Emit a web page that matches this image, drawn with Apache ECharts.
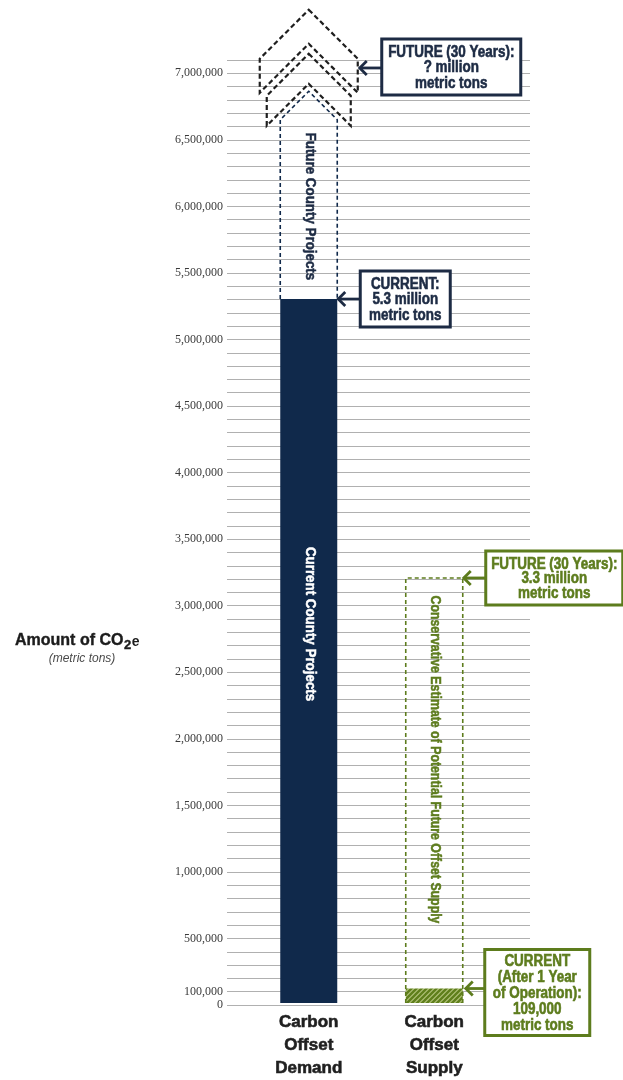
<!DOCTYPE html>
<html>
<head>
<meta charset="utf-8">
<title>Carbon Offset Demand vs Supply</title>
<script src="https://cdn.jsdelivr.net/npm/echarts@6/dist/echarts.min.js"></script>
<style>
  html, body { margin: 0; padding: 0; background: #fff; }
  #chart { width: 623px; height: 1080px; }
</style>
</head>
<body>
<div id="chart"></div>
<script>
// ---- data ----
const categories = ['Carbon\nOffset\nDemand', 'Carbon\nOffset\nSupply']
/** current amounts (metric tons CO2e) */
const currentValues = [5300000, 109000]
/** dashed "future" outlines: where each starts and where its top sits */
const outlineFrom = [5300000, 0]
const outlineTo = [6650000, 3200000]
const barTexts = ['Current County Projects', '']
const outlineTexts = ['Future County Projects', 'Conservative Estimate of Potential Future Offset Supply']
/** y tick labels that are printed (grid lines every 100,000) */
const yLabelValues = [0, 100000, 500000, 1000000, 1500000, 2000000, 2500000, 3000000,
  3500000, 4000000, 4500000, 5000000, 5500000, 6000000, 6500000, 7000000]
/** call-out boxes: which bar, at what value the arrow points */
const noteCategory = [0, 0, 1, 1]
const noteValues = [7040000, 5300000, 3200000, 109000]
const noteTexts = [
  'FUTURE (30 Years):\n? million\nmetric tons',
  'CURRENT:\n5.3 million\nmetric tons',
  'FUTURE (30 Years):\n3.3 million\nmetric tons',
  'CURRENT\n(After 1 Year\nof Operation):\n109,000\nmetric tons'
]

// ---- styles ----
const NAVY = '#10294b'
const NAVY_TEXT = '#1d2b44'
const GREEN = '#5d7c1d'
const DASH_DARK = '#1e1e1e'
const SANS = "'Liberation Sans', Arial, sans-serif"
const BAR_W = 57
// per call-out: arrow tip offset from bar centre, gap to box, box size, colour, box shift, line height
const noteStyles = [
  { tip: 50, gap: 23, w: 139, h: 56, dy: -1, lh: 15.5, color: NAVY_TEXT },
  { tip: 28.5, gap: 23, w: 90, h: 56, dy: 0, lh: 15.5, color: NAVY_TEXT },
  { tip: 28.5, gap: 23, w: 137, h: 54, dy: 0, lh: 14.5, color: GREEN },
  { tip: 30.5, gap: 20, w: 105, h: 86, dy: 4, lh: 16, color: GREEN }
]

/** diagonal green hatch used for the current supply bar */
function hatchPattern() {
  const c = document.createElement('canvas')
  c.width = 5
  c.height = 5
  const g = c.getContext('2d')
  g.fillStyle = '#b4c47c'
  g.fillRect(0, 0, 5, 5)
  g.strokeStyle = '#5f7f1c'
  g.lineWidth = 2.4
  g.beginPath()
  g.moveTo(-1, 6); g.lineTo(6, -1)
  g.moveTo(-1, 1); g.lineTo(1, -1)
  g.moveTo(4, 6); g.lineTo(6, 4)
  g.stroke()
  return { image: c, repeat: 'repeat' }
}

/** thick dashed chevron, peak at (cx, py), half width w, thickness t */
function chevron(cx, py, w, t) {
  return [[cx, py], [cx + w, py + w], [cx + w, py + w + t], [cx, py + t],
    [cx - w, py + w + t], [cx - w, py + w]]
}

/** vertical text reading top to bottom, squeezed a little along its length */
function verticalText(x, y, text, fill, size, squeeze) {
  return {
    type: 'text',
    x,
    y,
    rotation: -Math.PI / 2,
    scaleX: squeeze,
    style: {
      text,
      fill,
      stroke: fill,
      lineWidth: 0.5,
      font: 'bold ' + size + 'px ' + SANS,
      align: 'center',
      verticalAlign: 'middle'
    }
  }
}

function renderOutline(params, api) {
  const i = api.value(0)
  const bottom = api.coord([i, api.value(1)])
  const top = api.coord([i, api.value(2)])
  const cx = bottom[0]
  const h = BAR_W / 2
  const color = i === 0 ? NAVY : GREEN
  const dash = { stroke: color, fill: null, lineWidth: 1.6, lineDash: [4, 3] }
  const mid = (bottom[1] + top[1]) / 2
  const children = []
  if (i === 0) {
    children.push({
      type: 'polyline',
      shape: { points: [[cx - h, bottom[1]], [cx - h, top[1]], [cx, top[1] - h], [cx + h, top[1]], [cx + h, bottom[1]]] },
      style: dash
    })
    // stacked arrow chevrons above the future outline
    const arrowStyle = { stroke: DASH_DARK, fill: null, lineWidth: 2.2, lineDash: [5, 3] }
    children.push({ type: 'polygon', shape: { points: chevron(cx, top[1] - 66, 42, 30) }, style: arrowStyle })
    children.push({ type: 'polygon', shape: { points: chevron(cx, top[1] - 110, 49, 34) }, style: arrowStyle })
    children.push(verticalText(cx + 1, mid - 3, outlineTexts[i], NAVY_TEXT, 15, 0.89))
  } else {
    children.push({
      type: 'polyline',
      shape: { points: [[cx - h, bottom[1]], [cx - h, top[1]], [cx + h, top[1]], [cx + h, bottom[1]]] },
      style: dash
    })
    children.push(verticalText(cx + 1, mid - 31, outlineTexts[i], GREEN, 14, 0.88))
  }
  return { type: 'group', children }
}

function renderBarText(params, api) {
  const i = api.value(0)
  if (!barTexts[i]) return null
  const bottom = api.coord([i, 0])
  const top = api.coord([i, api.value(1)])
  return verticalText(bottom[0] + 1, (bottom[1] + top[1]) / 2 - 27, barTexts[i], '#fff', 15, 0.89)
}

function renderNote(params, api) {
  const k = params.dataIndex
  const s = noteStyles[k]
  const p = api.coord([api.value(0), api.value(1)])
  const tx = p[0] + s.tip
  const y = p[1]
  const left = tx + s.gap
  const cy = y + s.dy
  const line = { stroke: s.color, fill: null, lineWidth: 2.8 }
  return {
    type: 'group',
    children: [
      { type: 'line', shape: { x1: tx + 1, y1: y, x2: left, y2: y }, style: line },
      { type: 'polyline', shape: { points: [[tx + 8, y - 7], [tx + 1, y], [tx + 8, y + 7]] }, style: line },
      {
        type: 'rect',
        shape: { x: left, y: cy - s.h / 2, width: s.w, height: s.h },
        style: { stroke: s.color, fill: '#fff', lineWidth: 3 }
      },
      {
        type: 'text',
        x: left + s.w / 2,
        y: cy + 1,
        scaleX: 0.84,
        style: {
          text: noteTexts[k],
          fill: s.color,
          stroke: s.color,
          lineWidth: 0.6,
          font: 'bold 16px ' + SANS,
          lineHeight: s.lh,
          align: 'center',
          verticalAlign: 'middle'
        }
      }
    ]
  }
}

// y-axis title pieces: "Amount of CO" + lowered "2" + "e"
const titleFont = 'bold 16px ' + SANS
const subFont = 'bold 13px ' + SANS
const measure = document.createElement('canvas').getContext('2d')
measure.font = titleFont
const titleW = measure.measureText('Amount of CO').width
measure.font = subFont
const subW = measure.measureText('2').width
const titleX = 15
const titleY = 641

const chart = echarts.init(document.getElementById('chart'), null, { renderer: 'canvas' })

const gridTop = 60
const gridBottom = 75
const yMax = 7100000

chart.setOption({
  animation: false,
  backgroundColor: '#fff',
  grid: [
    // grid lines + y labels
    { left: 227, right: 93, top: gridTop, bottom: gridBottom },
    // bars (narrower so the two columns sit where they do in the picture)
    { left: 246, right: 126, top: gridTop, bottom: gridBottom }
  ],
  xAxis: [
    { gridIndex: 0, type: 'category', data: categories, show: false },
    {
      gridIndex: 1,
      type: 'category',
      data: categories,
      axisLine: { show: false },
      axisTick: { show: false },
      axisLabel: {
        margin: 8,
        color: '#1f1f1f',
        fontFamily: SANS,
        fontWeight: 'bold',
        fontSize: 17,
        lineHeight: 23,
        textBorderColor: '#1f1f1f',
        textBorderWidth: 0.6
      }
    }
  ],
  yAxis: [
    {
      gridIndex: 0,
      type: 'value',
      min: 0,
      max: yMax,
      interval: 100000,
      axisLine: { show: false },
      axisTick: { show: false },
      splitLine: { lineStyle: { color: '#b0b0b0', width: 1 } },
      axisLabel: {
        margin: 4,
        color: '#3a3a3a',
        fontFamily: "'Liberation Serif', 'DejaVu Serif', serif",
        fontSize: 12,
        formatter: v => (yLabelValues.includes(v) ? v.toLocaleString('en-US') : '')
      }
    },
    { gridIndex: 1, type: 'value', min: 0, max: yMax, show: false }
  ],
  graphic: [
    {
      type: 'text',
      x: titleX,
      y: titleY,
      style: { text: 'Amount of CO', font: titleFont, fill: '#1c1c1c', stroke: '#1c1c1c', lineWidth: 0.4, verticalAlign: 'middle' }
    },
    {
      type: 'text',
      x: titleX + titleW + 0.5,
      y: titleY + 4,
      style: { text: '2', font: subFont, fill: '#1c1c1c', stroke: '#1c1c1c', lineWidth: 0.4, verticalAlign: 'middle' }
    },
    {
      type: 'text',
      x: titleX + titleW + subW + 1,
      y: titleY + 1,
      style: { text: 'e', font: 'bold 14px ' + SANS, fill: '#1c1c1c', verticalAlign: 'middle' }
    },
    {
      type: 'text',
      x: 82,
      y: 659,
      style: {
        text: '(metric tons)',
        align: 'center',
        verticalAlign: 'middle',
        fill: '#4a4a4a',
        font: 'italic 12px ' + SANS
      }
    }
  ],
  series: [
    {
      type: 'bar',
      xAxisIndex: 1,
      yAxisIndex: 1,
      barWidth: BAR_W,
      data: currentValues.map((v, i) => ({
        value: v,
        itemStyle: { color: i === 0 ? NAVY : hatchPattern() }
      })),
      z: 2
    },
    {
      type: 'custom',
      xAxisIndex: 1,
      yAxisIndex: 1,
      renderItem: renderBarText,
      data: currentValues.map((v, i) => [i, v]),
      z: 3
    },
    {
      type: 'custom',
      xAxisIndex: 1,
      yAxisIndex: 1,
      renderItem: renderOutline,
      data: categories.map((c, i) => [i, outlineFrom[i], outlineTo[i]]),
      z: 3
    },
    {
      type: 'custom',
      xAxisIndex: 1,
      yAxisIndex: 1,
      renderItem: renderNote,
      data: noteValues.map((v, k) => [noteCategory[k], v]),
      z: 4
    }
  ]
})
</script>
</body>
</html>
